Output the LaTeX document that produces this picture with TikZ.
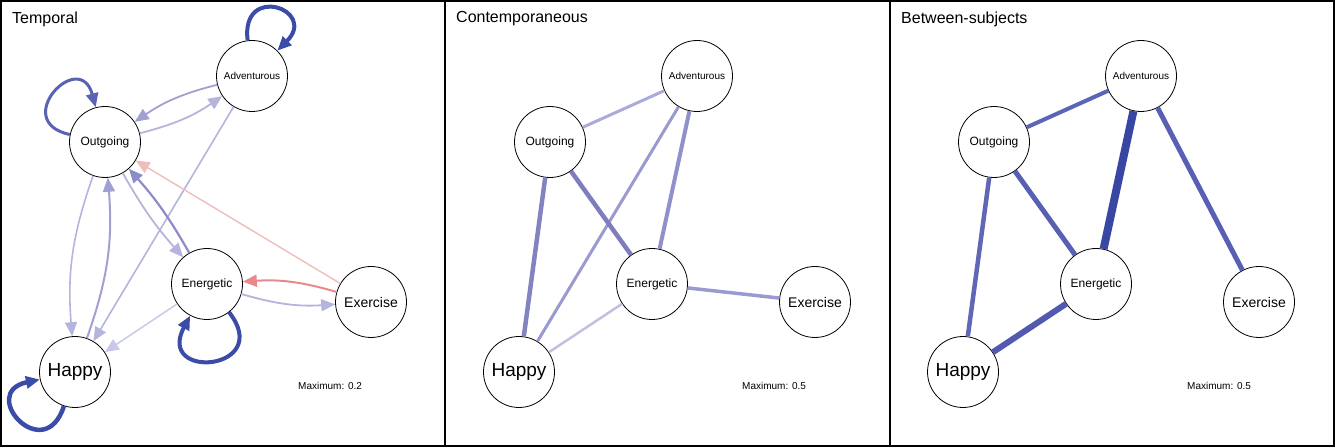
\documentclass[tikz,border=0pt]{standalone}
\usepackage{fontspec}
\setmainfont{Liberation Sans}
\usetikzlibrary{arrows.meta}

\definecolor{deepblue}{RGB}{58,75,168}
\definecolor{midblue}{RGB}{90,98,180}
\definecolor{lilac}{RGB}{180,180,220}
\definecolor{lilacmid}{RGB}{160,160,210}
\definecolor{lilacdark}{RGB}{140,140,200}
\definecolor{lilacpale}{RGB}{200,200,232}
\definecolor{rosepale}{RGB}{240,188,188}
\definecolor{rose}{RGB}{232,137,139}

\begin{document}
\begin{tikzpicture}[x=1pt,y=1pt,
  var/.style={circle,draw=black,line width=0.8pt,fill=white,minimum size=71pt,inner sep=0pt},
  title/.style={anchor=west,inner sep=0pt,font=\fontsize{16}{16}\selectfont},
  maxnote/.style={anchor=west,inner sep=0pt,font=\fontsize{10}{10}\selectfont},
  arr/.style={-{Triangle[length=14pt,width=12pt]}}]

\useasboundingbox (0,0) rectangle (1335,447);
\draw[line width=2pt] (1,1) rectangle (1334,446);
\draw[line width=2pt] (445,1) -- (445,446);
\draw[line width=2pt] (890,1) -- (890,446);

% Temporal
\node[title] (ttitle) at (12,428) {Temporal};
\node[maxnote] (tmax) at (298,61) {Maximum: 0.2};
\node[var,font=\fontsize{10}{10}\selectfont] (tadv) at (252,371) {Adventurous};
\node[var,font=\fontsize{12}{12}\selectfont] (tout) at (105,305) {Outgoing};
\node[var,font=\fontsize{12}{12}\selectfont] (tene) at (207,163) {Energetic};
\node[var,font=\fontsize{14}{14}\selectfont] (texe) at (371,145) {Exercise};
\node[var,font=\fontsize{19}{19}\selectfont] (thap) at (75,75) {Happy};

\draw[arr,line width=4pt,color=deepblue] (tadv) to[out=97,in=45,distance=58pt] (tadv); % loop
\draw[arr,line width=3pt,color=midblue] (tout) to[out=168,in=105,distance=62pt] (tout); % loop
\draw[arr,line width=4pt,color=deepblue] (tene) to[out=-52,in=-118,distance=74pt] (tene); % loop
\draw[arr,line width=4.5pt,color=deepblue] (thap) to[out=-108,in=-168,distance=64pt] (thap); % loop

\draw[arr,line width=1.8pt,color=lilacmid] (tadv) to[bend right=10] (tout);
\draw[arr,line width=1.8pt,color=lilac] (tout) to[bend right=10] (tadv);
\draw[arr,line width=1.6pt,color=lilac] (tadv) -- (thap);
\draw[arr,line width=1.4pt,color=rosepale] (texe) -- (tout);
\draw[arr,line width=2pt,color=rose] (texe) to[bend right=10] (tene);
\draw[arr,line width=1.8pt,color=lilac] (tene) to[bend right=10] (texe);
\draw[arr,line width=2.2pt,color=lilacdark] (tene) to[bend right=6] (tout);
\draw[arr,line width=1.8pt,color=lilac] (tout) to[bend right=6] (tene);
\draw[arr,line width=1.6pt,color=lilac] (tout) to[bend right=12] (thap);
\draw[arr,line width=2pt,color=lilacmid] (thap) to[bend right=12] (tout);
\draw[arr,line width=1.4pt,color=lilacpale] (tene) -- (thap);

% Contemporaneous
\begin{scope}[shift={(445,0)}]
\node[title] (ctitle) at (11,428) {Contemporaneous};
\node[maxnote] (cmax) at (297,61) {Maximum: 0.5};
\node[var,font=\fontsize{10}{10}\selectfont] (cadv) at (252,371) {Adventurous};
\node[var,font=\fontsize{12}{12}\selectfont] (cout) at (105,305) {Outgoing};
\node[var,font=\fontsize{12}{12}\selectfont] (cene) at (207,163) {Energetic};
\node[var,font=\fontsize{14}{14}\selectfont] (cexe) at (370,145) {Exercise};
\node[var,font=\fontsize{19}{19}\selectfont] (chap) at (74,75) {Happy};

\draw[line width=3pt,color={rgb,255:red,171;green,171;blue,218}] (cout) -- (cadv);
\draw[line width=3pt,color={rgb,255:red,154;green,154;blue,207}] (cadv) -- (chap);
\draw[line width=4pt,color={rgb,255:red,144;green,144;blue,202}] (cadv) -- (cene);
\draw[line width=4.5pt,color={rgb,255:red,126;green,126;blue,190}] (cout) -- (cene);
\draw[line width=4.5pt,color={rgb,255:red,131;green,131;blue,194}] (cout) -- (chap);
\draw[line width=3.5pt,color={rgb,255:red,154;green,154;blue,208}] (cene) -- (cexe);
\draw[line width=2.5pt,color={rgb,255:red,192;green,192;blue,226}] (cene) -- (chap);
\end{scope}

% Between-subjects
\begin{scope}[shift={(890,0)}]
\node[title] (btitle) at (11,428) {Between-subjects};
\node[maxnote] (bmax) at (297,61) {Maximum: 0.5};
\node[var,font=\fontsize{10}{10}\selectfont] (badv) at (251,371) {Adventurous};
\node[var,font=\fontsize{12}{12}\selectfont] (bout) at (104,305) {Outgoing};
\node[var,font=\fontsize{12}{12}\selectfont] (bene) at (206,163) {Energetic};
\node[var,font=\fontsize{14}{14}\selectfont] (bexe) at (369,145) {Exercise};
\node[var,font=\fontsize{19}{19}\selectfont] (bhap) at (73,75) {Happy};

\draw[line width=4pt,color={rgb,255:red,92;green,100;blue,182}] (bout) -- (badv);
\draw[line width=8pt,color={rgb,255:red,56;green,70;blue,164}] (badv) -- (bene);
\draw[line width=5pt,color={rgb,255:red,88;green,96;blue,180}] (badv) -- (bexe);
\draw[line width=5pt,color={rgb,255:red,88;green,96;blue,180}] (bout) -- (bene);
\draw[line width=4.5pt,color={rgb,255:red,96;green,104;blue,182}] (bout) -- (bhap);
\draw[line width=6pt,color={rgb,255:red,82;green,89;blue,176}] (bene) -- (bhap);
\end{scope}

\end{tikzpicture}
\end{document}
